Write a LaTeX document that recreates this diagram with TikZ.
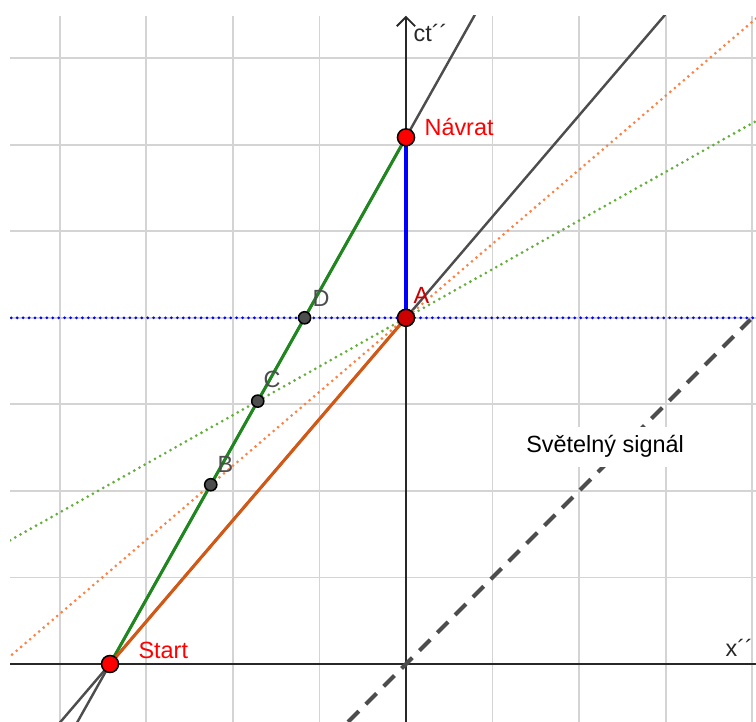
\documentclass[tikz,border=0pt]{standalone}
\usepackage{fontspec}
\setmainfont{Liberation Sans}
\usetikzlibrary{calc,arrows.meta}
\definecolor{gridgrey}{RGB}{212,212,212}
\definecolor{axisgrey}{RGB}{40,40,40}
\definecolor{linegrey}{RGB}{77,77,77}
\definecolor{shipgreen}{RGB}{30,135,30}
\definecolor{shiporange}{RGB}{212,88,20}
\definecolor{dotorange}{RGB}{255,128,64}
\definecolor{dotgreen}{RGB}{100,175,60}
\definecolor{darkred}{RGB}{204,0,0}
\tikzset{
    redpoint/.style={
        circle,
        draw=black,
        fill=red,
        line width=0.5pt,
        inner sep=0pt,
        minimum size=5.6pt
    },
    apoint/.style={
        redpoint,
        fill=darkred
    },
    greypoint/.style={
        circle,
        draw=black,
        fill=linegrey,
        line width=0.5pt,
        inner sep=0pt,
        minimum size=4pt
    },
    ptlabel/.style={
        anchor=base west,
        inner sep=0pt,
        font=\fontsize{7.7}{9}\selectfont
    },
    gridline/.style={gridgrey, line width=0.6pt},
    axis/.style={axisgrey, line width=0.6pt},
    fullline/.style={linegrey, line width=0.8pt},
    greenline/.style={shipgreen, line width=1pt},
    orangeline/.style={shiporange, line width=1pt},
    blueline/.style={blue, line width=1.3pt},
    dotline/.style={line width=1pt, line cap=round, dash pattern=on 0pt off 1.95pt},
    signal/.style={linegrey, line width=1.3pt, dash pattern=on 5pt off 3.3pt}
}

\begin{document}
\begin{tikzpicture}
\useasboundingbox (-4.691,-0.670) rectangle (4.044,7.672);

% Grid
\foreach \x in {-4,...,4}
    \draw[gridline] (\x,-0.67) -- (\x,7.49);
\foreach \y in {1,...,7}
    \draw[gridline] (-4.575,\y) -- (4.044,\y);

% Axes
\coordinate (xl) at (-4.575,0);
\coordinate (xr) at (4.044,0);
\coordinate (yb) at (0,-0.67);
\coordinate (yt) at (0,7.49);
\draw[axis] (xl) -- (xr);
\draw[axis,-{Straight Barb[length=3pt,width=6pt]}] (yb) -- (yt);
\node[ptlabel, axisgrey] (xlab) at (3.686,0.081) {x´´};
\node[ptlabel, axisgrey] (ylab) at (0.081,7.198) {ct´´};

% Events
\coordinate (s) at (-3.42,0);
\coordinate (n) at (0,6.085);
\coordinate (a) at (0,4);
\coordinate (gd) at ($(a)+(6.085,3.42)$);
\coordinate (od) at ($(a)+(4,3.42)$);
\coordinate (hd) at ($(a)+(1,0)$);
\coordinate (b) at (intersection of s--n and a--od);
\coordinate (c) at (intersection of s--n and a--gd);
\coordinate (d) at (intersection of s--n and a--hd);

% Full lines and simultaneity lines
\begin{scope}
\clip (-4.575,-0.67) rectangle (4.044,7.49);
\draw[fullline] ($(s)!-1!(a)$) -- ($(s)!3!(a)$);
\draw[fullline] ($(s)!-1!(n)$) -- ($(s)!3!(n)$);
\draw[dotline, dotorange] ($(a)!-3!(od)$) -- ($(a)!3!(od)$);
\draw[dotline, dotgreen] ($(a)!-3!(gd)$) -- ($(a)!3!(gd)$);
\draw[dotline, blue] ($(a)!-6!(hd)$) -- ($(a)!6!(hd)$);
\end{scope}

% Light signal
\coordinate (sig0) at (-0.67,-0.67);
\coordinate (sig1) at (3.98,3.98);
\draw[signal] (sig0) -- (sig1);
\node[fill=white, inner sep=3pt, font=\fontsize{7.7}{9}\selectfont] (siglab) at (2.30,2.51)
{Světelný signál};

% World lines
\draw[greenline] (s) -- (n);
\draw[orangeline] (s) -- (a);
\draw[blueline] (a) -- (n);

% Points
\node[redpoint] (start) at (s) {};
\node[redpoint] (navrat) at (n) {};
\node[apoint] (A) at (a) {};
\node[greypoint] (B) at (b) {};
\node[greypoint] (C) at (c) {};
\node[greypoint] (D) at (d) {};

\node[ptlabel, red] (startlab) at (-3.097,0.058) {Start};
\node[ptlabel, red] (navratlab) at (0.208,6.112) {Návrat};
\node[ptlabel, darkred] (alab) at (0.081,4.171) {A};
\node[ptlabel, linegrey] (blab) at (-2.184,2.218) {B};
\node[ptlabel, linegrey] (clab) at (-1.652,3.189) {C};
\node[ptlabel, linegrey] (dlab) at (-1.086,4.136) {D};

\end{tikzpicture}
\end{document}
